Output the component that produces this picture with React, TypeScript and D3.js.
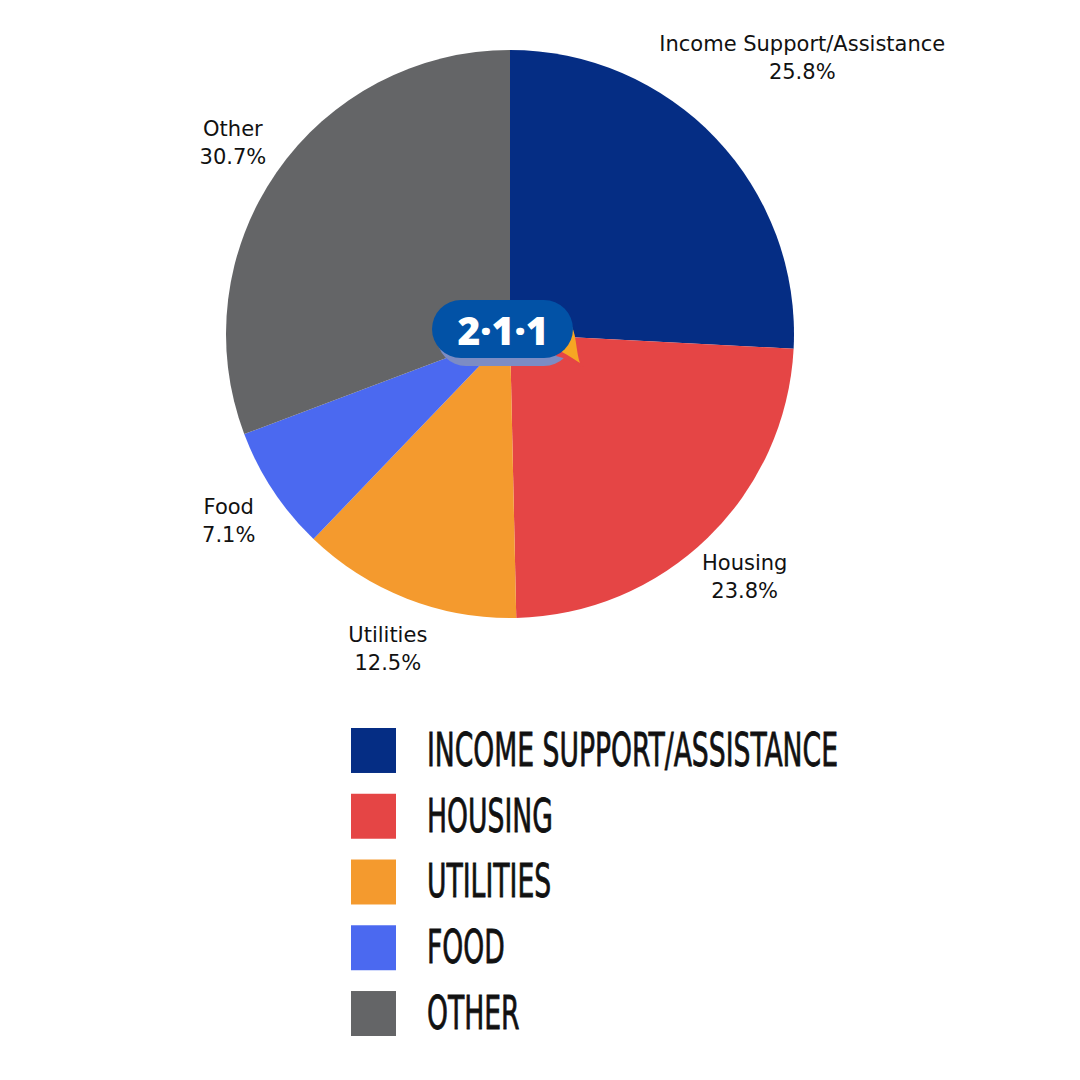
import React, { useEffect, useRef } from "react";
import * as d3 from "d3";

const categories = ["Income Support/Assistance", "Housing", "Utilities", "Food", "Other"];
const values = [25.8, 23.8, 12.5, 7.1, 30.7];
const legendLabels = ["INCOME SUPPORT/ASSISTANCE", "HOUSING", "UTILITIES", "FOOD", "OTHER"];
const colors = ["#052D84", "#E54545", "#F49A2E", "#4B69F0", "#646567"];

const W = 1080;
const H = 1080;
const cx = 510;
const cy = 334;
const R = 284;

export default function App() {
  const legendRef = useRef<SVGGElement>(null);

  const pie = d3.pie<number>().sort(null).value((d) => d).startAngle(0).endAngle(2 * Math.PI);
  const arcs = pie(values);
  const arcGen = d3.arc<d3.PieArcDatum<number>>().innerRadius(0).outerRadius(R);

  const labelR = (i: number) => (i === 0 ? 403 : 337);

  const legendY = d3
    .scaleBand<number>()
    .domain(d3.range(categories.length))
    .range([728, 1036])
    .paddingInner(0.316)
    .paddingOuter(0);

  useEffect(() => {
    const g = legendRef.current;
    if (!g) return;
    const texts = Array.from(g.querySelectorAll("text")) as SVGTextElement[];
    const first = texts[0];
    const len = first.getComputedTextLength();
    const k = 411 / len;
    texts.forEach((t) => {
      const x = +(t.getAttribute("data-x") || 0);
      const y = +(t.getAttribute("data-y") || 0);
      t.setAttribute("transform", `translate(${x},${y}) scale(${k},1)`);
    });
  }, []);

  return (
    <svg width={W} height={H} viewBox={`0 0 ${W} ${H}`} style={{ display: "block", position: "absolute", left: 0, top: 0, background: "#fff" }}>
      <rect width={W} height={H} fill="#fff" />
      <g transform={`translate(${cx},${cy})`}>
        {arcs.map((a, i) => (
          <path key={i} d={arcGen(a) || ""} fill={colors[i]} />
        ))}
        {arcs.map((a, i) => {
          const mid = (a.startAngle + a.endAngle) / 2;
          const r = labelR(i);
          const x = r * Math.sin(mid);
          const y = -r * Math.cos(mid);
          return (
            <text key={i} x={x} y={y} textAnchor="middle" fontFamily="'DejaVu Sans', sans-serif" fontSize={21} fill="#111">
              <tspan x={x} dy={-6}>{categories[i]}</tspan>
              <tspan x={x} dy={28}>{`${values[i].toFixed(1)}%`}</tspan>
            </text>
          );
        })}
      </g>

      {/* 211 logo */}
      <g>
        <rect x={437} y={306} width={136} height={60} rx={29} fill="#7C8CC4" />
        <path d="M567,324 C578,332 576,352 584,368 C574,362 566,358 556,356 Z" fill="#E54545" />
        <path d="M567,320 C577,328 575,348 580,363 C574,359 569,356 562,352 Z" fill="#F6A623" />
        <rect x={432} y={300} width={141} height={58} rx={29} fill="#0252A6" />
        <text x={503} y={345} textAnchor="middle" fontFamily="'Open Sans', sans-serif" fontWeight={800} fontSize={39} fill="#fff">
          2·1·1
        </text>
      </g>

      <g ref={legendRef}>
        {legendLabels.map((l, i) => {
          const y = legendY(i)!;
          const h = legendY.bandwidth();
          return (
            <g key={i}>
              <rect x={351} y={y} width={45} height={h} fill={colors[i]} />
              <text
                data-x={427}
                data-y={y + h - 7}
                transform={`translate(427,${y + h - 7}) scale(0.62,1)`}
                fontFamily="'DejaVu Sans Condensed', 'DejaVu Sans', sans-serif"
                fontSize={47}
                fill="#111"
                stroke="#111"
                strokeWidth={0.8}
              >
                {l}
              </text>
            </g>
          );
        })}
      </g>
    </svg>
  );
}
